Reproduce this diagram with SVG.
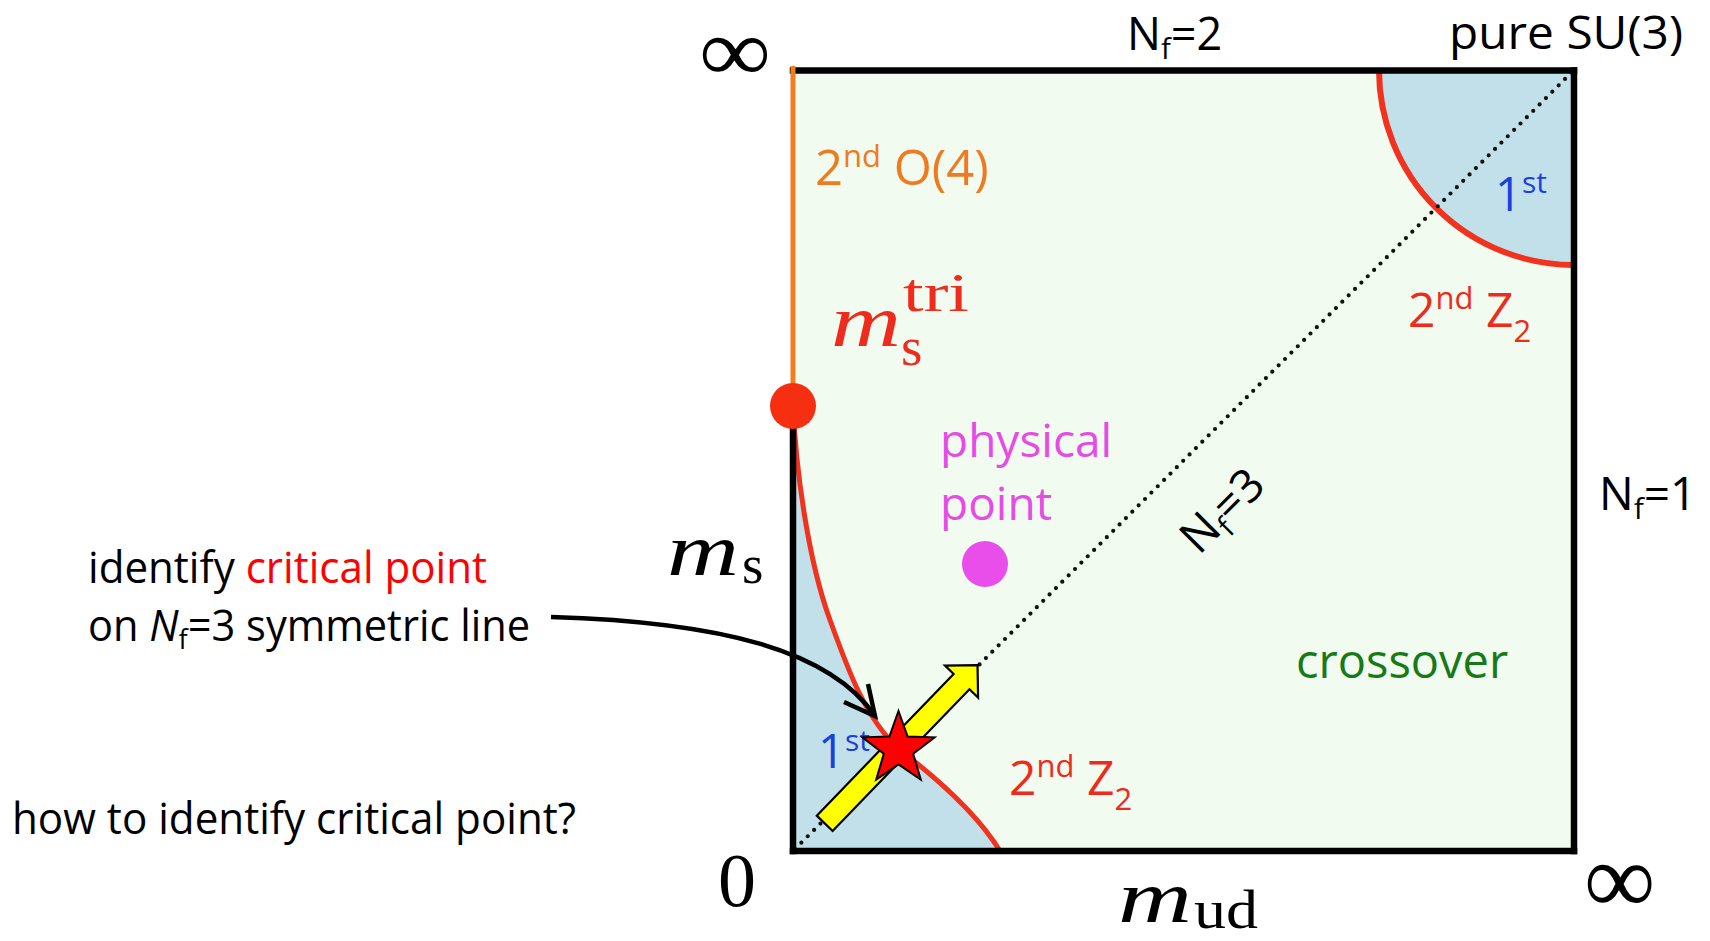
<svg xmlns="http://www.w3.org/2000/svg" width="1710" height="941" viewBox="0 0 1710 941">
<style>
.sans{font-family:"Open Sans","Liberation Sans",sans-serif}
.serif{font-family:"Liberation Serif","DejaVu Serif",serif}
.red{fill:#ee2b1c}
.blue{fill:#1c3fe0}
.edge{stroke:#000;stroke-width:6.5;fill:none;stroke-linecap:square}
</style>
<rect width="1710" height="941" fill="#fff"/>

<g id="phase-diagram">
<rect x="793" y="70" width="781" height="781" fill="#f1fbf0"/>
<path id="first-order-top" d="M1379,70 A195,195 0 0,0 1574,265 L1574,70 Z" fill="#c2e0ea"/>
<path id="first-order-bottom" d="M793,406 C796,470 808,560 830,620 C848,670 866,720 900,750 C930,773 975,810 1000,851 L793,851 Z" fill="#c2e0ea"/>
<path d="M1379,70 A195,195 0 0,0 1574,265" fill="none" stroke="#f0321e" stroke-width="6"/>
<path d="M793,406 C796,470 808,560 830,620 C848,670 866,720 900,750 C930,773 975,810 1000,851" fill="none" stroke="#f0321e" stroke-width="5"/>
</g>

<g id="nf3-line">
<line x1="795" y1="849" x2="1572" y2="72" stroke="#111" stroke-width="4.2" stroke-linecap="round" stroke-dasharray="0 9"/>
</g>

<g id="border">
<line class="edge" x1="793" y1="70.5" x2="1574" y2="70.5"/>
<line class="edge" x1="1574" y1="70.5" x2="1574" y2="851"/>
<line class="edge" x1="793" y1="851" x2="1574" y2="851"/>
<line class="edge" x1="793" y1="406" x2="793" y2="851"/>
<line x1="793" y1="66" x2="793" y2="406" stroke="#f08020" stroke-width="5"/>
</g>

<g id="tricritical-dot"><circle cx="793" cy="406" r="23" fill="#f52f10"/></g>
<g id="physical-dot"><circle cx="985" cy="564" r="23" fill="#ea4eea"/></g>

<g id="axis-labels">
<text class="serif" transform="translate(699,81) scale(1.12,1)" font-size="90" fill="#000">∞</text>
<text class="serif" x="1584" y="913" font-size="100" fill="#000">∞</text>
<text class="serif" x="718" y="906" font-size="76" fill="#000">0</text>
<text class="serif" y="575" fill="#000"><tspan x="667" font-size="74" font-style="italic" textLength="72" lengthAdjust="spacingAndGlyphs">m</tspan><tspan x="742" y="583" font-size="55">s</tspan></text>
<text class="serif" y="922" fill="#000"><tspan x="1118" font-size="74" font-style="italic" textLength="74" lengthAdjust="spacingAndGlyphs">m</tspan><tspan x="1194" y="928" font-size="55" textLength="64" lengthAdjust="spacingAndGlyphs">ud</tspan></text>
</g>

<g id="label-nf2"><text class="sans" x="1127" y="50" font-size="45" fill="#000">N<tspan font-size="29" dy="9">f</tspan><tspan dy="-9">=2</tspan></text></g>
<g id="label-pure"><text class="sans" x="1449" y="49" font-size="46" fill="#000" textLength="234" lengthAdjust="spacingAndGlyphs">pure SU(3)</text></g>
<g id="label-nf1"><text class="sans" x="1599" y="510" font-size="46" fill="#000">N<tspan font-size="30" dy="9">f</tspan><tspan dy="-9">=1</tspan></text></g>
<g id="label-nf3"><text class="sans" transform="translate(1199,556) rotate(-45)" font-size="46" fill="#000">N<tspan font-size="29" dy="9">f</tspan><tspan dy="-9">=3</tspan></text></g>

<g id="label-o4"><text class="sans" x="815" y="185" font-size="49" fill="#f07a20">2<tspan font-size="31" dy="-18">nd</tspan><tspan dy="18"> O(4)</tspan></text></g>
<g id="label-first-top"><text class="sans blue" x="1495" y="211" font-size="47">1<tspan font-size="30" dy="-18">st</tspan></text></g>
<g id="label-z2-top"><text class="sans red" x="1408" y="327" font-size="48">2<tspan font-size="31" dy="-18">nd</tspan><tspan dy="18"> Z</tspan><tspan font-size="31" dy="15">2</tspan></text></g>
<g id="label-z2-bottom"><text class="sans red" x="1009" y="795" font-size="48">2<tspan font-size="31" dy="-18">nd</tspan><tspan dy="18"> Z</tspan><tspan font-size="31" dy="15">2</tspan></text></g>
<g id="label-first-bottom"><text class="sans blue" x="818" y="768" font-size="47">1<tspan font-size="30" dy="-17">st</tspan></text></g>

<g id="label-mstri"><text class="serif" y="346" fill="#ee2b1c"><tspan x="831" font-size="74" font-style="italic" textLength="70" lengthAdjust="spacingAndGlyphs">m</tspan><tspan x="901" y="365" font-size="55">s</tspan><tspan x="903" y="311" font-size="55" textLength="66" lengthAdjust="spacingAndGlyphs">tri</tspan></text></g>

<g id="label-physical"><text class="sans" font-size="46" fill="#e64be6"><tspan x="940" y="457">physical</tspan><tspan x="940" y="520">point</tspan></text></g>
<g id="label-crossover"><text class="sans" x="1296" y="678" font-size="47" fill="#177a17">crossover</text></g>

<g id="note-identify"><text class="sans" x="88" y="583" font-size="43" fill="#000" textLength="399" lengthAdjust="spacingAndGlyphs">identify <tspan fill="#ff0000">critical point</tspan></text>
<text class="sans" x="88" y="641" font-size="43" fill="#000" textLength="442" lengthAdjust="spacingAndGlyphs">on <tspan font-style="italic">N</tspan><tspan font-size="28" dy="8">f</tspan><tspan dy="-8">=3 symmetric line</tspan></text></g>
<g id="note-how"><text class="sans" x="12" y="834" font-size="43" fill="#000" textLength="564" lengthAdjust="spacingAndGlyphs">how to identify critical point?</text></g>

<g id="scan-arrow"><polygon transform="translate(824.7,823.3) rotate(-46)" points="0,-11 197,-11 197,-23 220,0 197,23 197,11 0,11" fill="#ffff00" stroke="#000" stroke-width="2.2" stroke-linejoin="miter"/></g>
<g id="critical-star"><polygon points="898.5,711 907.6,736.5 934.6,737.3 913.2,753.8 920.8,779.7 898.5,764.5 876.2,779.7 883.8,753.8 862.4,737.3 889.4,736.5" fill="#ff0000" stroke="#000" stroke-width="2"/></g>

<g id="connectors">
<path d="M551,617 C720,622 830,650 875,716" fill="none" stroke="#000" stroke-width="4.5"/>
<path d="M868,684 L875,716 L844,702" fill="none" stroke="#000" stroke-width="4.5" stroke-linejoin="miter"/>
</g>
</svg>
